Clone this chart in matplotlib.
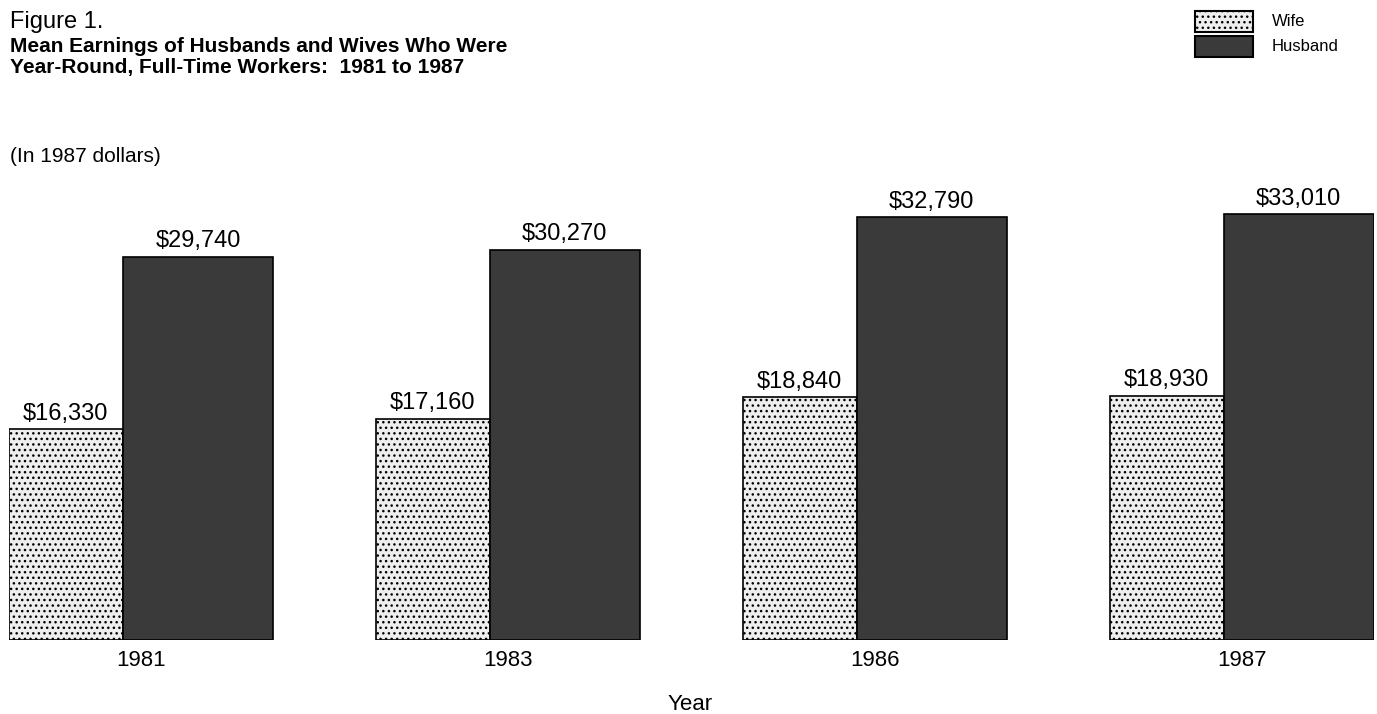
import numpy as np
import matplotlib
matplotlib.use("Agg")
import matplotlib.pyplot as plt
from matplotlib.patches import Rectangle

plt.rcParams['font.family'] = ['Liberation Sans', 'DejaVu Sans']
plt.rcParams['hatch.linewidth'] = 1.0

# data
years = ['1981', '1983', '1986', '1987']
wife = [16330, 17160, 18840, 18930]
husband = [29740, 30270, 32790, 33010]

W, H = 1377, 714
fig = plt.figure(figsize=(W / 100, H / 100), dpi=100)

# axes placed in pixel terms (left, bottom from figure)
ax = fig.add_axes([9 / W, (H - 640) / H, 1365 / W, 490 / H])
ax.set_xlim(0, 3.72)
ax.set_ylim(0, 38000)
ax.axis('off')

w_wife = 0.31
w_hus = 0.41
x = np.arange(len(years))

ax.bar(x, wife, width=w_wife, align='edge', facecolor='#eeeeee',
       edgecolor='black', linewidth=1.2, hatch='...', label='Wife')
ax.bar(x + w_wife, husband, width=w_hus, align='edge', facecolor='#3a3a3a',
       edgecolor='black', linewidth=1.2, label='Husband')

for i in range(len(years)):
    ax.text(x[i] + w_wife / 2, wife[i] + 350, '${:,}'.format(wife[i]),
            ha='center', va='bottom', fontsize=17)
    ax.text(x[i] + w_wife + w_hus / 2, husband[i] + 350, '${:,}'.format(husband[i]),
            ha='center', va='bottom', fontsize=17)
    ax.text(x[i] + (w_wife + w_hus) / 2, -800, years[i],
            ha='center', va='top', fontsize=16)

# titles
fig.text(10 / W, 1 - 22 / H, 'Figure 1.', fontsize=17, va='center', ha='left')
fig.text(10 / W, 1 - 46 / H, 'Mean Earnings of Husbands and Wives Who Were',
         fontsize=15, fontweight='bold', va='center', ha='left')
fig.text(10 / W, 1 - 67 / H, 'Year-Round, Full-Time Workers:  1981 to 1987',
         fontsize=15, fontweight='bold', va='center', ha='left')
fig.text(10 / W, 1 - 156 / H, '(In 1987 dollars)', fontsize=15,
         va='center', ha='left')
fig.text(690 / W, 1 - 705 / H, 'Year', fontsize=16, va='center', ha='center')

# legend drawn by hand at the top right
leg = [('Wife', '#eeeeee', '...'), ('Husband', '#3a3a3a', None)]
for j, (lab, fc, hatch) in enumerate(leg):
    y0 = 1 - (32 + j * 25) / H
    r = Rectangle((1195 / W, y0), 58 / W, 21 / H, transform=fig.transFigure,
                  facecolor=fc, edgecolor='black', linewidth=1.5, hatch=hatch)
    fig.patches.append(r)
    fig.text(1272 / W, y0 + 10.5 / H, lab, fontsize=12, va='center', ha='left')

fig.savefig('out.png', dpi=100)
